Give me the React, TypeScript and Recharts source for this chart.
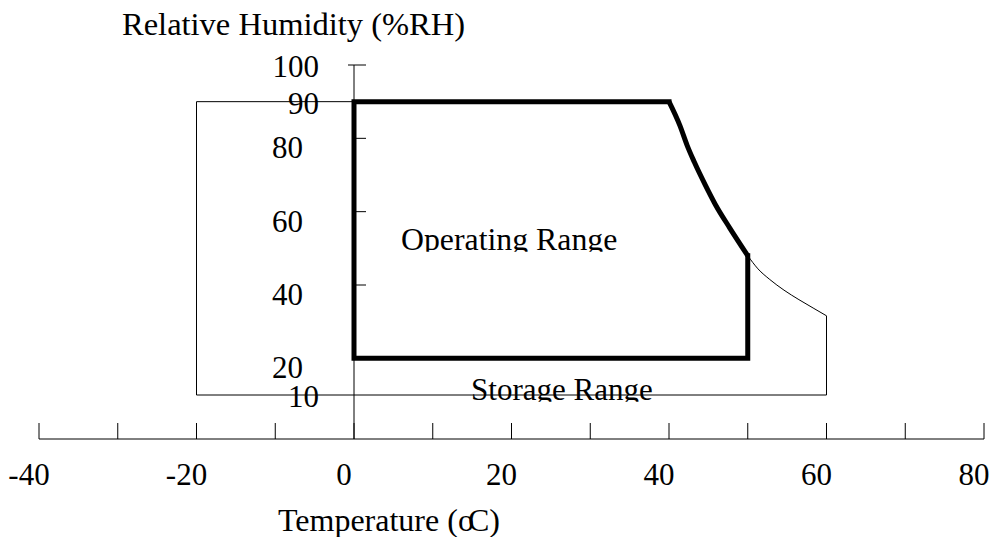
import React from "react";
import {
  LineChart,
  Line,
  XAxis,
  YAxis,
  ReferenceLine,
  ReferenceDot,
} from "recharts";

// temperature axis (°C)
const tempTicks = [-40, -30, -20, -10, 0, 10, 20, 30, 40, 50, 60, 70, 80];
// humidity axis (%RH)
const rhMarks = [20, 40, 60, 80, 100];
const rhMajorLabels = [20, 40, 60, 80];
const rhMinorLabels = [10, 90, 100];

// operating range outline
const operatingEdges = [
  { t: 40, rh: 90 },
  { t: 0, rh: 90 },
  { t: 0, rh: 20 },
  { t: 50, rh: 20 },
  { t: 50, rh: 48 },
];
const operatingCurve = [
  { t: 40, rh: 90 },
  { t: 41.4, rh: 83.4 },
  { t: 42.3, rh: 78.1 },
  { t: 43.2, rh: 73.6 },
  { t: 44.6, rh: 67.3 },
  { t: 45.9, rh: 61.9 },
  { t: 47.7, rh: 55.6 },
  { t: 50, rh: 48 },
];

// storage range outline
const storageEdges = [
  { t: 40, rh: 90 },
  { t: -20, rh: 90 },
  { t: -20, rh: 10 },
  { t: 60, rh: 10 },
  { t: 60, rh: 31.6 },
];
const storageCurve = [
  { t: 50, rh: 48 },
  { t: 51.3, rh: 44.4 },
  { t: 52.8, rh: 41.5 },
  { t: 54.6, rh: 38.6 },
  { t: 56.5, rh: 36.0 },
  { t: 58.4, rh: 33.6 },
  { t: 60, rh: 31.6 },
];

const FONT = '"Liberation Serif", "Times New Roman", Times, serif';
const INK = "#000";

function TempTick({ x, y, payload }: any) {
  const v = payload.value;
  return (
    <g>
      <line x1={x} x2={x} y1={y - 16} y2={y} stroke={INK} />
      {v % 20 === 0 && (
        <text
          x={x - 10}
          y={y + 46}
          textAnchor="middle"
          fontSize={31}
          fontFamily={FONT}
          fill={INK}
        >
          {v}
        </text>
      )}
    </g>
  );
}

function TempTitle({ viewBox }: any) {
  return (
    <text
      x={viewBox.x + 239}
      y={viewBox.y + 92}
      fontSize={32}
      fontFamily={FONT}
      fill={INK}
    >
      Temperature (o<tspan dx={-6}>C</tspan>)
    </text>
  );
}

function RhTitle({ viewBox }: any) {
  return (
    <text
      x={viewBox.x - 232}
      y={viewBox.y - 30}
      fontSize={32.5}
      fontFamily={FONT}
      fill={INK}
    >
      Relative Humidity (%RH)
    </text>
  );
}

function RhMark({ cx, cy, top }: any) {
  return (
    <line x1={top ? cx - 6 : cx} x2={cx + 12} y1={cy} y2={cy} stroke={INK} />
  );
}

function RhLabel({ cx, cy, value, major }: any) {
  return (
    <text
      x={major ? cx - 51 : cx - 35}
      y={major ? cy + 20 : cy + 12}
      textAnchor="end"
      fontSize={31}
      fontFamily={FONT}
      fill={INK}
    >
      {value}
    </text>
  );
}

// text cut off just under the baseline, like in the source drawing
function ClippedLabel({ cx, cy, text, id, size }: any) {
  return (
    <g>
      <defs>
        <clipPath id={id}>
          <rect x={cx - 200} y={cy - 40} width={400} height={41.5} />
        </clipPath>
      </defs>
      <text
        x={cx}
        y={cy}
        textAnchor="middle"
        fontSize={size}
        fontFamily={FONT}
        fill={INK}
        clipPath={`url(#${id})`}
      >
        {text}
      </text>
    </g>
  );
}

export default function App() {
  return (
    <div style={{ position: "absolute", left: 0, top: 0, background: "#fff" }}>
      <LineChart
        width={991}
        height={537}
        margin={{ top: 65, right: 7, bottom: 0, left: 39 }}
      >
        <XAxis
          type="number"
          dataKey="t"
          domain={[-40, 80]}
          ticks={tempTicks}
          interval={0}
          allowDataOverflow
          tick={<TempTick />}
          tickLine={false}
          tickSize={0}
          tickMargin={0}
          axisLine={{ stroke: INK }}
          height={98}
          label={{ content: TempTitle }}
        />
        <YAxis hide type="number" domain={[-2, 100]} allowDataOverflow />

        <ReferenceLine x={0} stroke={INK} label={{ content: RhTitle }} />

        {rhMarks.map((v) => (
          <ReferenceDot
            key={`mark-${v}`}
            x={0}
            y={v}
            r={0}
            shape={(p: any) => <RhMark cx={p.cx} cy={p.cy} top={v === 100} />}
          />
        ))}
        {rhMajorLabels.map((v) => (
          <ReferenceDot
            key={`maj-${v}`}
            x={0}
            y={v}
            r={0}
            shape={(p: any) => (
              <RhLabel cx={p.cx} cy={p.cy} value={v} major />
            )}
          />
        ))}
        {rhMinorLabels.map((v) => (
          <ReferenceDot
            key={`min-${v}`}
            x={0}
            y={v}
            r={0}
            shape={(p: any) => <RhLabel cx={p.cx} cy={p.cy} value={v} />}
          />
        ))}

        <Line
          data={storageEdges}
          dataKey="rh"
          type="linear"
          stroke={INK}
          strokeWidth={1}
          dot={false}
          activeDot={false}
          isAnimationActive={false}
        />
        <Line
          data={storageCurve}
          dataKey="rh"
          type="monotone"
          stroke={INK}
          strokeWidth={1}
          dot={false}
          activeDot={false}
          isAnimationActive={false}
        />
        <Line
          data={operatingEdges}
          dataKey="rh"
          type="linear"
          stroke={INK}
          strokeWidth={5}
          strokeLinejoin="miter"
          strokeLinecap="square"
          dot={false}
          activeDot={false}
          isAnimationActive={false}
        />
        <Line
          data={operatingCurve}
          dataKey="rh"
          type="monotone"
          stroke={INK}
          strokeWidth={5}
          dot={false}
          activeDot={false}
          isAnimationActive={false}
        />

        <ReferenceDot
          x={19.7}
          y={49.5}
          r={0}
          shape={(p: any) => (
            <ClippedLabel
              cx={p.cx}
              cy={p.cy}
              id="clip-op"
              size={31.8}
              text="Operating Range"
            />
          )}
        />
        <ReferenceDot
          x={26.4}
          y={8.6}
          r={0}
          shape={(p: any) => (
            <ClippedLabel
              cx={p.cx}
              cy={p.cy}
              id="clip-st"
              size={31}
              text="Storage Range"
            />
          )}
        />
      </LineChart>
    </div>
  );
}
